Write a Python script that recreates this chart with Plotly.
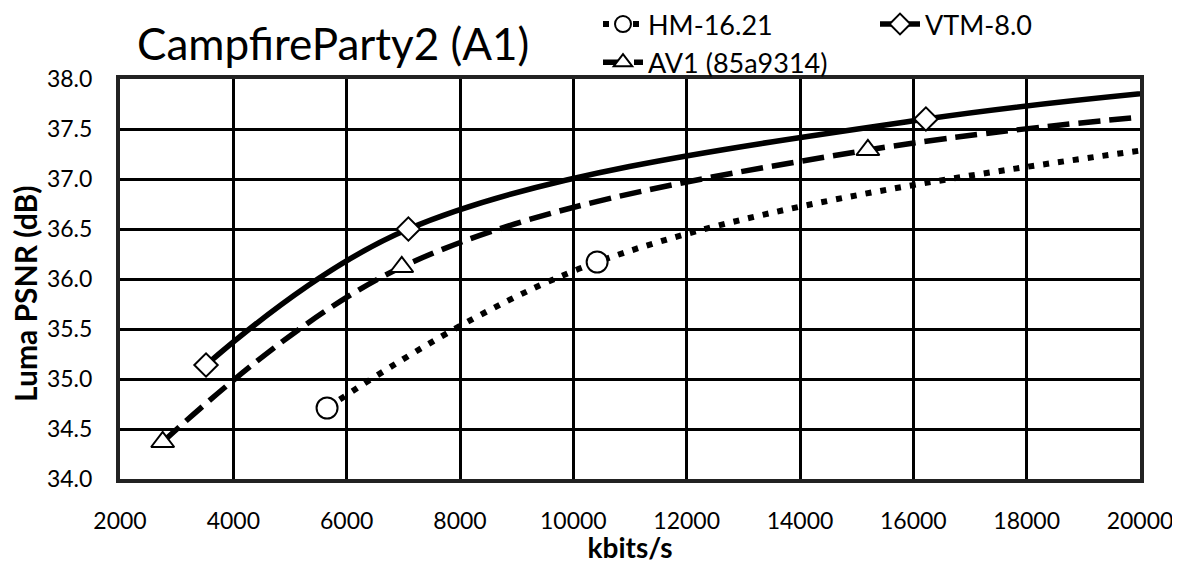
import plotly.graph_objects as go

# Data (kbits/s, Luma PSNR dB); last points lie beyond the visible x-range
hm_rate = [5654, 10420, 21500, 45000]
hm_psnr = [34.71, 36.17, 37.40, 38.40]

vtm_rate = [3518, 7089, 16222, 36000]
vtm_psnr = [35.14, 36.50, 37.60, 38.50]

av1_rate = [2753, 6972, 15198, 34000]
av1_psnr = [34.37, 36.12, 37.29, 38.15]

x_ticks = list(range(2000, 20001, 2000))
y_ticks = [34.0, 34.5, 35.0, 35.5, 36.0, 36.5, 37.0, 37.5, 38.0]

FONT = "Lato"
marker_line = dict(color="black", width=2)

fig = go.Figure()
fig.add_trace(go.Scatter(
    x=hm_rate, y=hm_psnr, name="HM-16.21", mode="lines+markers",
    line=dict(color="black", width=6, dash="6px,9px", shape="spline", smoothing=1),
    marker=dict(symbol="circle", size=21, color="white", line=marker_line),
    legend="legend",
))
fig.add_trace(go.Scatter(
    x=av1_rate, y=av1_psnr, name="AV1 (85a9314)", mode="lines+markers",
    line=dict(color="black", width=5.5, dash="22px,9px", shape="spline", smoothing=1),
    marker=dict(symbol="triangle-up", size=20, color="white", line=marker_line),
    legend="legend",
))
fig.add_trace(go.Scatter(
    x=vtm_rate, y=vtm_psnr, name="VTM-8.0", mode="lines+markers",
    line=dict(color="black", width=5.5, shape="spline", smoothing=1),
    marker=dict(symbol="diamond", size=18, color="white", line=marker_line),
    legend="legend2",
))

# page has an 8px body margin, so the figure is laid out 8px left/up of page coords
OFF = 8
W, H = 1180 - 2 * OFF, 572 - 2 * OFF
L, T = 120 - OFF, 79 - OFF
R = W - (1140 - OFF)
B = H - (479 - OFF)
PW, PH = W - L - R, H - T - B

def px_to_paper_x(px):
    return (px - OFF - L) / PW

def py_to_paper_y(py):
    return (H - B - (py - OFF)) / PH

fig.update_layout(
    width=W, height=H,
    margin=dict(l=L, r=R, t=T, b=B, autoexpand=False),
    paper_bgcolor="white", plot_bgcolor="white",
    font=dict(family=FONT, color="black", size=23),
    title=dict(text="CampfireParty2 (A1)", x=(137 - OFF) / W, xref="container", xanchor="left",
               y=1 - (45 - OFF) / H, yref="container", yanchor="middle",
               font=dict(family=FONT, size=44, color="black")),
    showlegend=True,
    legend=dict(x=px_to_paper_x(598), y=py_to_paper_y(0), xanchor="left", yanchor="top",
                orientation="v", font=dict(family=FONT, size=27), bgcolor="rgba(0,0,0,0)",
                tracegroupgap=0, itemwidth=40),
    legend2=dict(x=px_to_paper_x(875), y=py_to_paper_y(0), xanchor="left", yanchor="top",
                 orientation="v", font=dict(family=FONT, size=27), bgcolor="rgba(0,0,0,0)",
                 itemwidth=40),
    annotations=[dict(text="<b>Luma PSNR (dB)</b>", xref="paper", yref="paper",
                      x=px_to_paper_x(25), y=py_to_paper_y(294), xanchor="center", yanchor="middle",
                      textangle=-90, showarrow=False, borderpad=0,
                      font=dict(family=FONT, size=30))],
)

fig.update_xaxes(
    range=[2000, 20000], tickvals=x_ticks, ticktext=[str(v) for v in x_ticks],
    showgrid=True, gridcolor="black", gridwidth=3,
    showline=True, linecolor="#222", linewidth=4, mirror=True,
    ticks="", ticklabelstandoff=18, ticklabeloverflow="allow", zeroline=False,
    title=dict(text="<b>kbits/s</b>", font=dict(family=FONT, size=28), standoff=18),
)
fig.update_yaxes(
    range=[34.0, 38.0], tickvals=y_ticks, ticktext=[f"{v:.1f}" for v in y_ticks],
    showgrid=True, gridcolor="black", gridwidth=3,
    showline=True, linecolor="#222", linewidth=4, mirror=True,
    ticks="", ticklabelstandoff=19, zeroline=False,
)

fig.write_html("out.html")
